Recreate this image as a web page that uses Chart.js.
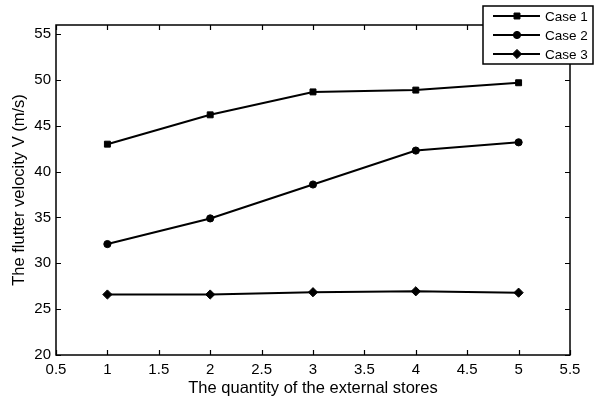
<!DOCTYPE html>
<html>
<head>
<meta charset="utf-8">
<script src="https://cdn.jsdelivr.net/npm/chart.js@4/dist/chart.umd.min.js"></script>
<style>
  html, body { margin: 0; padding: 0; background: #fff; }
  #wrap { width: 595px; height: 404px; }
</style>
</head>
<body>
<div id="wrap"><canvas id="c" width="595" height="404"></canvas></div>
<script>
// Number of external stores
const quantities = [1, 2, 3, 4, 5];
// Flutter velocity (m/s) for each case
const case1 = [43.0, 46.2, 48.7, 48.9, 49.7];
const case2 = [32.1, 34.9, 38.6, 42.3, 43.2];
const case3 = [26.6, 26.6, 26.85, 26.95, 26.8];
const seriesNames = ['Case 1', 'Case 2', 'Case 3'];
const xTicks = [0.5, 1, 1.5, 2, 2.5, 3, 3.5, 4, 4.5, 5, 5.5];
const yTicks = [20, 25, 30, 35, 40, 45, 50, 55];

const FONT = 'Liberation Sans, Arial, sans-serif';

function toPoints(ys) {
  return quantities.map((q, i) => ({ x: q, y: ys[i] }));
}

function makeSet(label, values, style, radius) {
  return {
    label: label,
    data: toPoints(values),
    borderColor: '#000',
    backgroundColor: '#000',
    borderWidth: 2,
    pointStyle: style,
    pointRadius: radius,
    pointBorderWidth: 1,
    pointBackgroundColor: '#000',
    pointBorderColor: '#000',
    tension: 0
  };
}

// Box frame with inward tick marks on all four sides, plus a boxed legend
const frame = {
  id: 'frame',
  afterDraw(chart) {
    const ctx = chart.ctx;
    const a = chart.chartArea;
    const xs = chart.scales.x, ys = chart.scales.y;
    const tl = 5;
    ctx.save();
    ctx.strokeStyle = '#000';
    ctx.lineWidth = 1.5;
    ctx.strokeRect(a.left, a.top, a.right - a.left, a.bottom - a.top);
    ctx.lineWidth = 1.2;
    ctx.beginPath();
    xTicks.forEach(v => {
      const px = Math.round(xs.getPixelForValue(v)) + 0.5;
      ctx.moveTo(px, a.bottom); ctx.lineTo(px, a.bottom - tl);
      ctx.moveTo(px, a.top); ctx.lineTo(px, a.top + tl);
    });
    yTicks.forEach(v => {
      const py = Math.round(ys.getPixelForValue(v)) + 0.5;
      ctx.moveTo(a.left, py); ctx.lineTo(a.left + tl, py);
      ctx.moveTo(a.right, py); ctx.lineTo(a.right - tl, py);
    });
    ctx.stroke();

    // legend
    const bx = 483, by = 6, bw = 110, bh = 58;
    ctx.fillStyle = '#fff';
    ctx.fillRect(bx, by, bw, bh);
    ctx.lineWidth = 1.5;
    ctx.strokeRect(bx, by, bw, bh);
    const rows = [16, 35, 54];
    ctx.font = '13.5px ' + FONT;
    ctx.textBaseline = 'middle';
    ctx.textAlign = 'left';
    chart.data.datasets.forEach((ds, i) => {
      const y = rows[i];
      ctx.strokeStyle = '#000';
      ctx.lineWidth = 2;
      ctx.beginPath();
      ctx.moveTo(493, y); ctx.lineTo(540, y);
      ctx.stroke();
      ctx.fillStyle = '#000';
      ctx.lineWidth = 1;
      Chart.helpers.drawPoint(ctx, {
        pointStyle: ds.pointStyle, radius: ds.pointRadius, rotation: 0, borderWidth: 1
      }, 517, y);
      ctx.fillStyle = '#000';
      ctx.fillText(ds.label, 545, y + 1);
    });
    ctx.restore();
  }
};

new Chart(document.getElementById('c'), {
  type: 'line',
  data: {
    datasets: [
      makeSet(seriesNames[0], case1, 'rect', 4.2),
      makeSet(seriesNames[1], case2, 'circle', 3.6),
      makeSet(seriesNames[2], case3, 'rectRot', 4.6)
    ]
  },
  options: {
    responsive: false,
    animation: false,
    devicePixelRatio: 1,
    layout: { padding: { top: 25, right: 25, left: 0, bottom: 0 } },
    plugins: { legend: { display: false }, tooltip: { enabled: false } },
    scales: {
      x: {
        type: 'linear',
        min: 0.5, max: 5.5,
        afterBuildTicks: s => { s.ticks = xTicks.map(v => ({ value: v })); },
        afterFit: s => { s.height = 49; },
        grid: { display: false, drawTicks: false },
        border: { display: false },
        ticks: {
          color: '#000', padding: 6, maxRotation: 0, autoSkip: false,
          font: { family: FONT, size: 15 },
          callback: v => String(v)
        },
        title: {
          display: true, text: 'The quantity of the external stores', color: '#000',
          font: { family: FONT, size: 16.5 }, padding: { top: 0, bottom: 6 }
        }
      },
      y: {
        min: 20, max: 56,
        afterBuildTicks: s => { s.ticks = yTicks.map(v => ({ value: v })); },
        afterFit: s => { s.width = 56; },
        grid: { display: false, drawTicks: false },
        border: { display: false },
        ticks: {
          color: '#000', padding: 5, autoSkip: false,
          font: { family: FONT, size: 15 },
          callback: v => String(v)
        },
        title: {
          display: true, text: 'The flutter velocity V (m/s)', color: '#000',
          font: { family: FONT, size: 16.5 }, padding: { top: 10, bottom: 0 }
        }
      }
    }
  },
  plugins: [frame]
});
</script>
</body>
</html>
